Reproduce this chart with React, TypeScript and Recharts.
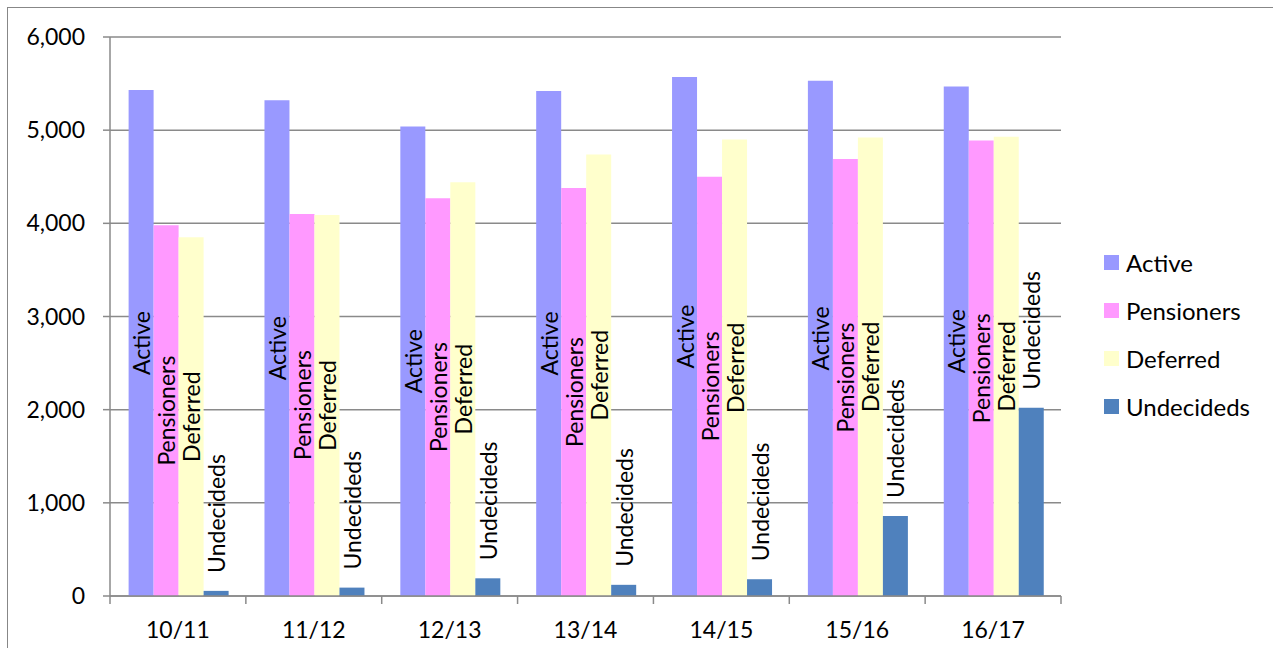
import { Bar, BarChart, CartesianGrid, LabelList, Legend, XAxis, YAxis } from 'recharts';

const categories = ['10/11', '11/12', '12/13', '13/14', '14/15', '15/16', '16/17'];
const active = [5430, 5320, 5040, 5420, 5570, 5530, 5470];
const pensioners = [3980, 4100, 4270, 4380, 4500, 4690, 4890];
const deferred = [3850, 4090, 4440, 4740, 4900, 4920, 4930];
const undecideds = [55, 90, 190, 120, 180, 860, 2020];
const yTicks = [0, 1000, 2000, 3000, 4000, 5000, 6000];
const seriesOrder = ['Active', 'Pensioners', 'Deferred', 'Undecideds'];

const data = categories.map((period, i) => ({
  period,
  Active: active[i],
  Pensioners: pensioners[i],
  Deferred: deferred[i],
  Undecideds: undecideds[i],
}));

const FONT = 'Lato, "Open Sans", sans-serif';
const GRID = '#8a8a8a';
const CHART_W = 1265;
const CHART_H = 640;
const MARGIN = { top: 29, right: 212, left: 0, bottom: 0 };
const Y_W = 102;
const TICK_MARGIN = 26;

const plotWidth = CHART_W - MARGIN.left - MARGIN.right - Y_W;

// category ticks sit between the groups, like the original
const CategoryTick = (props: any) => {
  const { x, y, payload, index } = props;
  const band = plotWidth / categories.length;
  const axisY = y - TICK_MARGIN;
  const left = x - band / 2;
  return (
    <g>
      <line x1={left} y1={axisY} x2={left} y2={axisY + 8} stroke={GRID} strokeWidth={1.5} />
      {index === categories.length - 1 && (
        <line x1={x + band / 2} y1={axisY} x2={x + band / 2} y2={axisY + 8} stroke={GRID} strokeWidth={1.5} />
      )}
      <text x={x} y={y} dy="0.71em" textAnchor="middle" fill="#000" fontSize={23} fontFamily={FONT}>
        {payload.value}
      </text>
    </g>
  );
};

const centerLabel = (name: string) => (props: any) => {
  const { x, y, width, height } = props;
  const cx = x + width / 2;
  const cy = y + height / 2;
  return (
    <text
      x={cx}
      y={cy}
      transform={`rotate(-90 ${cx} ${cy})`}
      textAnchor="middle"
      dominantBaseline="central"
      fontSize={23}
      fontFamily={FONT}
      fill="#000"
    >
      {name}
    </text>
  );
};

const topLabel = (name: string) => (props: any) => {
  const { x, y, width } = props;
  const cx = x + width / 2;
  const cy = y - 18;
  return (
    <text
      x={cx}
      y={cy}
      transform={`rotate(-90 ${cx} ${cy})`}
      textAnchor="start"
      dominantBaseline="central"
      fontSize={23}
      fontFamily={FONT}
      fill="#000"
    >
      {name}
    </text>
  );
};

const LegendBox = (props: any) => {
  const payload = [...(props.payload || [])].sort(
    (a: any, b: any) => seriesOrder.indexOf(a.value) - seriesOrder.indexOf(b.value)
  );
  return (
    <div style={{ fontFamily: FONT, fontSize: 24, color: '#000' }}>
      {payload.map((entry: any) => (
        <div key={entry.value} style={{ display: 'flex', alignItems: 'center', height: 48 }}>
          <span style={{ width: 15, height: 15, background: entry.color, marginRight: 7, display: 'inline-block' }} />
          <span>{entry.value}</span>
        </div>
      ))}
    </div>
  );
};

export default function App() {
  return (
    <div
      style={{
        position: 'absolute',
        left: 7,
        top: 7,
        width: CHART_W + 1,
        height: CHART_H,
        borderLeft: '1px solid #878787',
        borderTop: '1px solid #878787',
        background: '#fff',
        fontFamily: FONT,
      }}
    >
      <BarChart width={CHART_W} height={CHART_H} data={data} margin={MARGIN} barGap={0} barCategoryGap="13.7%">
        <CartesianGrid vertical={false} stroke={GRID} strokeWidth={1.5} />
        <XAxis
          dataKey="period"
          height={CHART_H - 588}
          axisLine={{ stroke: GRID, strokeWidth: 1.5 }}
          tickLine={false}
          tickSize={0}
          tickMargin={TICK_MARGIN}
          tick={<CategoryTick />}
          interval={0}
        />
        <YAxis
          width={Y_W}
          domain={[0, 6000]}
          ticks={yTicks}
          interval={0}
          axisLine={{ stroke: GRID, strokeWidth: 1.5 }}
          tickLine={{ stroke: GRID, strokeWidth: 1.5 }}
          tickSize={7}
          tickMargin={18}
          tick={{ fill: '#000', fontSize: 23, fontFamily: FONT }}
          tickFormatter={(v: number) => v.toLocaleString('en-US')}
        />
        <Legend
          layout="vertical"
          align="center"
          verticalAlign="middle"
          wrapperStyle={{ left: 1096, top: 230, width: 170 }}
          content={<LegendBox />}
        />
        <Bar dataKey="Active" fill="#9999FF" isAnimationActive={false}>
          <LabelList dataKey="Active" content={centerLabel('Active')} />
        </Bar>
        <Bar dataKey="Pensioners" fill="#FF99FF" isAnimationActive={false}>
          <LabelList dataKey="Pensioners" content={centerLabel('Pensioners')} />
        </Bar>
        <Bar dataKey="Deferred" fill="#FFFFCC" isAnimationActive={false}>
          <LabelList dataKey="Deferred" content={centerLabel('Deferred')} />
        </Bar>
        <Bar dataKey="Undecideds" fill="#4F81BD" isAnimationActive={false}>
          <LabelList dataKey="Undecideds" content={topLabel('Undecideds')} />
        </Bar>
      </BarChart>
    </div>
  );
}
